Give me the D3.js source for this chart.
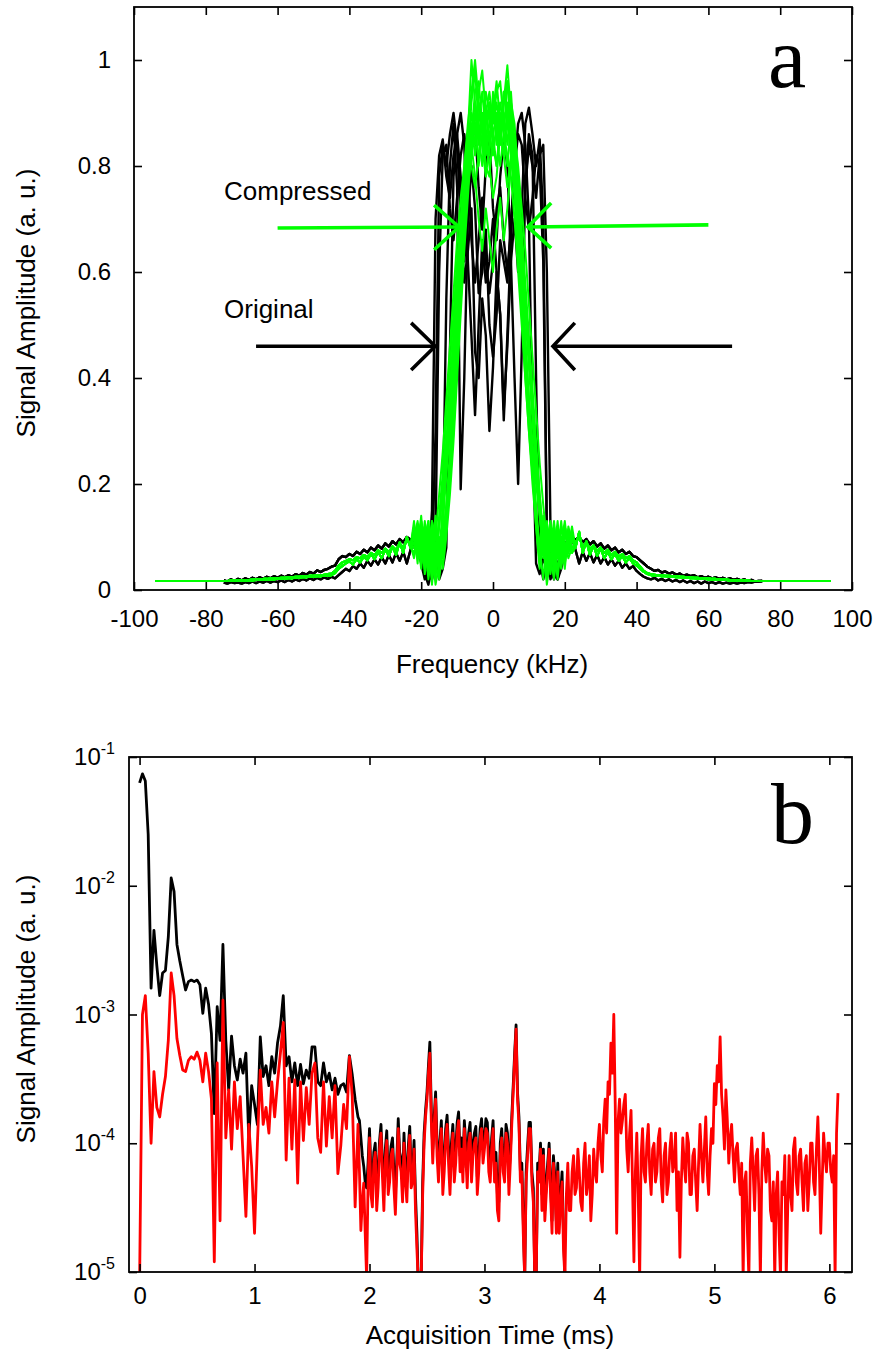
<!DOCTYPE html>
<html>
<head>
<meta charset="utf-8">
<script src="https://cdn.jsdelivr.net/npm/d3@7"></script>
<style>
  body { margin: 0; background: #fff; }
  text { font-family: "Liberation Sans", Arial, Helvetica, sans-serif; fill: #000; }
  .tick line { stroke: #000; stroke-width: 1.6; }
</style>
</head>
<body>
<svg id="fig" width="873" height="1353"></svg>
<script>
// ---------- panel a : spectra (kHz vs a.u.) ----------
const freqCore = d3.range(-22, 23);     // -22 .. 22 kHz
const freqWingL = d3.range(-75, -22);   // -75 .. -23
const freqWingR = d3.range(23, 76);     // 23 .. 75
const greenFloorF = [-94, 94];
const greenFloorA = 0.017;

// black wings (original)
const blackWingL1 = [.018,.016,.020,.017,.021,.018,.022,.019,.023,.020,
  .024,.021,.025,.022,.026,.023,.027,.024,.028,.025,
  .030,.027,.032,.029,.034,.031,.037,.034,.038,.040,
  .044,.046,.058,.064,.062,.068,.064,.072,.068,.076,
  .071,.080,.075,.084,.078,.088,.082,.092,.086,.096,
  .090,.100,.095];
const blackWingL2 = [.014,.012,.015,.013,.014,.012,.015,.013,.016,.013,
  .016,.014,.017,.014,.017,.015,.018,.015,.019,.016,
  .020,.017,.021,.018,.022,.019,.023,.020,.024,.021,
  .025,.022,.028,.034,.040,.036,.045,.040,.050,.042,
  .055,.046,.058,.048,.062,.050,.066,.052,.070,.055,
  .072,.050,.075];
const blackWingR1 = [.095,.100,.090,.096,.086,.092,.082,.088,.078,.084,
  .075,.080,.071,.076,.068,.072,.064,.062,.056,.050,
  .044,.040,.036,.038,.033,.035,.031,.033,.029,.031,
  .027,.029,.026,.028,.024,.026,.023,.025,.022,.024,
  .021,.023,.020,.022,.019,.021,.018,.020,.017,.019,
  .016,.017,.017];
const blackWingR2 = [.075,.050,.072,.055,.070,.052,.066,.050,.062,.048,
  .058,.046,.055,.042,.050,.040,.045,.036,.030,.025,
  .022,.020,.023,.018,.021,.017,.020,.016,.019,.015,
  .018,.014,.017,.013,.016,.012,.016,.013,.015,.012,
  .015,.012,.014,.012,.014,.012,.014,.013,.015,.014,
  .016,.016,.017];

// green wings (compressed)
const greenWingL1 = [.017,.017,.018,.018,.018,.019,.019,.019,.020,.020,
  .020,.021,.021,.022,.022,.022,.023,.023,.024,.024,
  .025,.025,.026,.026,.027,.027,.028,.028,.029,.030,
  .031,.036,.046,.052,.055,.058,.056,.062,.060,.066,
  .063,.070,.066,.075,.070,.078,.072,.082,.076,.088,
  .080,.095,.085];
const greenWingL2 = [.017,.017,.017,.017,.017,.018,.018,.018,.018,.019,
  .019,.019,.020,.020,.020,.021,.021,.021,.022,.022,
  .023,.023,.024,.024,.025,.025,.026,.026,.027,.027,
  .028,.032,.040,.045,.050,.054,.048,.058,.052,.063,
  .056,.068,.058,.072,.060,.076,.064,.082,.066,.090,
  .070,.100,.080];
const greenWingR1 = [.090,.100,.082,.090,.078,.084,.074,.080,.070,.076,
  .066,.072,.063,.068,.060,.064,.056,.052,.044,.036,
  .032,.030,.029,.028,.028,.027,.027,.026,.026,.025,
  .025,.024,.024,.023,.023,.022,.022,.022,.021,.021,
  .020,.020,.020,.019,.019,.019,.018,.018,.018,.017,
  .017,.017,.017];
const greenWingR2 = [.080,.110,.070,.092,.066,.084,.064,.078,.060,.072,
  .058,.068,.055,.064,.052,.060,.050,.046,.040,.034,
  .030,.028,.027,.027,.026,.026,.025,.025,.024,.024,
  .023,.023,.022,.022,.021,.021,.021,.020,.020,.020,
  .019,.019,.019,.018,.018,.018,.018,.017,.017,.017,
  .017,.017,.017];

// central parts, -22 .. 22 kHz
const blackCore1 = [.10,.08,.05,.02,.03,.15,.70,.82,.85,.78,.74,.82,.86,.78,.62,.70,.80,.72,.56,.60,.68,.50,.44,
  .52,.66,.62,.58,.70,.78,.72,.64,.76,.84,.80,.74,.82,.84,.60,.12,.03,.02,.04,.07,.09,.10];
const blackCore2 = [.09,.10,.06,.03,.01,.04,.30,.78,.84,.80,.86,.90,.84,.70,.58,.64,.72,.45,.40,.55,.48,.30,.42,
  .60,.52,.34,.46,.62,.70,.60,.72,.88,.91,.86,.80,.85,.70,.10,.02,.04,.02,.05,.08,.10,.09];
const blackCore3 = [.08,.10,.09,.06,.03,.02,.05,.03,.12,.55,.80,.88,.76,.19,.40,.70,.85,.88,.76,.68,.80,.86,.72,
  .66,.78,.85,.80,.62,.40,.20,.45,.76,.86,.82,.40,.06,.02,.05,.03,.06,.04,.07,.09,.08,.10];
const blackCore4 = [.10,.07,.09,.05,.07,.03,.06,.02,.04,.08,.45,.78,.86,.90,.84,.62,.48,.33,.50,.66,.58,.62,.70,
  .60,.52,.32,.48,.66,.80,.88,.90,.84,.70,.30,.05,.03,.06,.04,.07,.05,.08,.06,.09,.08,.10];
const blackCore5 = [.09,.08,.07,.04,.02,.06,.10,.60,.82,.84,.72,.66,.74,.82,.86,.80,.66,.58,.66,.74,.62,.56,.62,
  .72,.76,.66,.60,.68,.80,.86,.84,.74,.68,.74,.82,.80,.62,.12,.04,.02,.05,.07,.08,.09,.09];

const greenCore1 = [.09,.11,.06,.12,.04,.10,.02,.12,.20,.28,.38,.48,.58,.66,.74,.82,.92,.98,.88,.84,.90,.86,.82,
  .88,.92,.86,.96,.90,.80,.70,.62,.52,.42,.32,.22,.14,.08,.12,.04,.10,.06,.12,.08,.10,.08];
const greenCore2 = [.10,.07,.12,.08,.13,.03,.09,.05,.10,.16,.24,.34,.46,.58,.70,.80,.88,.84,.92,.88,.80,.78,.86,
  .90,.84,.94,.88,.82,.74,.64,.52,.40,.30,.20,.12,.05,.10,.03,.11,.06,.12,.08,.11,.07,.09];
const greenCore3 = [.12,.08,.14,.05,.11,.01,.08,.03,.12,.22,.32,.44,.56,.67,.76,.86,1.0,.92,.84,.90,.82,.88,.92,
  .84,.90,.86,.80,.88,.78,.66,.56,.46,.36,.26,.16,.08,.02,.10,.05,.12,.07,.13,.06,.11,.09];
const greenCore4 = [.08,.12,.07,.13,.06,.12,.04,.09,.06,.12,.20,.30,.42,.54,.66,.76,.82,.88,.80,.86,.94,.90,.84,
  .80,.88,.92,.99,.90,.84,.72,.60,.48,.36,.24,.14,.06,.11,.02,.09,.04,.10,.05,.12,.08,.10];
const greenCore5 = [.10,.13,.08,.11,.05,.13,.10,.18,.26,.36,.46,.56,.66,.74,.80,.86,.80,.76,.82,.90,.86,.80,.74,
  .78,.86,.82,.76,.82,.86,.80,.72,.64,.54,.44,.34,.24,.16,.09,.13,.06,.12,.09,.13,.07,.11];
const greenCore6 = [.07,.10,.05,.09,.02,.07,.01,.05,.09,.16,.26,.38,.50,.62,.72,.80,.86,.94,.96,.88,.84,.92,.88,
  .94,.96,.88,.92,.86,.78,.68,.56,.44,.32,.22,.12,.04,.09,.01,.06,.02,.08,.04,.09,.06,.08];
const greenCore7 = [.11,.09,.13,.07,.12,.06,.11,.04,.14,.24,.34,.44,.54,.64,.72,.78,.84,.78,.70,.64,.72,.66,.60,
  .68,.74,.66,.72,.80,.84,.76,.66,.56,.46,.36,.26,.18,.10,.06,.12,.05,.10,.07,.12,.08,.10];
const greenCore8 = [.09,.06,.11,.03,.09,.02,.07,.12,.18,.26,.36,.48,.60,.70,.80,.88,.94,1.0,.92,.86,.90,.94,.88,
  .92,.86,.94,.90,.84,.76,.66,.56,.46,.36,.28,.20,.14,.06,.11,.03,.08,.02,.09,.05,.10,.07];
const greenCore9 = [.13,.07,.10,.04,.12,.08,.14,.06,.16,.22,.30,.40,.52,.62,.72,.82,.90,.86,.94,.98,.90,.84,.90,
  .96,.88,.82,.90,.94,.84,.74,.64,.54,.44,.34,.24,.16,.08,.13,.05,.11,.03,.10,.06,.12,.09];
const greenCore10 = [.06,.10,.04,.11,.07,.13,.05,.10,.04,.10,.18,.28,.40,.52,.64,.74,.84,.90,.86,.80,.88,.92,.86,
  .80,.86,.90,.84,.92,.88,.78,.68,.58,.48,.38,.28,.18,.10,.04,.12,.07,.13,.05,.11,.08,.12];
const greenCore11 = [.11,.05,.13,.09,.03,.10,.06,.14,.22,.32,.42,.52,.62,.70,.76,.84,.88,.82,.88,.84,.78,.84,.90,
  .86,.80,.86,.82,.78,.70,.60,.50,.40,.30,.22,.14,.08,.14,.06,.10,.03,.11,.05,.12,.08,.10];
const greenCore12 = [.08,.12,.05,.10,.13,.04,.12,.02,.08,.14,.22,.32,.44,.56,.68,.78,.86,.92,.88,.94,.86,.82,.94,
  .88,.84,.92,.96,.86,.80,.70,.58,.46,.34,.24,.14,.07,.12,.04,.08,.13,.06,.10,.04,.11,.07];

const xTicksA = [-100, -80, -60, -40, -20, 0, 20, 40, 60, 80, 100];
const yTicksA = [0, 0.2, 0.4, 0.6, 0.8, 1];

// width arrows: [fromF, fromA, tipF, tipA, armF, armUp, armDown]
const arrowsGreen = [[-60, 0.683, -9.5, 0.685, -16.4, 0.726, 0.642],
                     [60, 0.689, 9.7, 0.685, 16.2, 0.730, 0.645]];
const arrowsBlack = [[-66, 0.460, -16.1, 0.460, -22.8, 0.504, 0.415],
                     [66.6, 0.460, 16.7, 0.460, 22.8, 0.504, 0.415]];

// ---------- panel b : time domain residual (ms vs a.u.) ----------
const ampUnit = 1e-4;       // all amplitudes below are in units of 1e-4 a.u.
// 0 .. 1.875 ms, every 0.025 ms
const tEarly = [0, 0.025];
const redEarly = [
  0.08, 10, 14, 5, 1.0, 3.6, 1.9, 1.6, 2.4, 3.3,
  6.3, 21, 14, 6.5, 4.8, 3.7, 3.6, 4.4, 4.7, 4.5,
  5.1, 4.4, 3.0, 5.0, 3.6, 2.2, 0.12, 4.2, 0.25, 12.9,
  1.1, 2.6, 0.9, 3.0, 1.3, 2.3, 0.8, 0.27, 1.4, 0.66,
  0.2, 1.0, 3.7, 1.4, 1.9, 1.2, 3.0, 1.6, 3.0, 5.0,
  8.7, 0.74, 3.2, 0.9, 3.1, 0.49, 3.0, 1.05, 2.7, 1.4,
  3.5, 4.2, 1.1, 0.85, 3.0, 0.95, 2.3, 1.1, 2.8, 0.58,
  0.95, 2.0, 1.3, 4.7, 2.3, 0.32];
const blackEarly = [
  630, 740, 650, 250, 16, 45, 24, 14, 21, 22,
  40, 115, 90, 35, 26, 20, 15.5, 18, 18.5, 18,
  18.5, 17, 10.2, 16, 12, 7.1, 1.7, 11.5, 6.3, 35,
  6.3, 2.6, 6.8, 4.0, 3.1, 4.5, 3.5, 5.0, 1.07, 2.8,
  2.0, 1.4, 6.7, 3.3, 4.0, 2.8, 4.7, 3.5, 6.0, 8.1,
  14, 4.0, 4.7, 3.0, 4.2, 2.8, 4.1, 2.9, 3.7, 3.2,
  5.6, 5.6, 3.0, 2.8, 4.2, 3.0, 3.5, 2.6, 3.2, 2.4,
  2.8, 2.9, 2.5, 4.8, 3.4, 2.2];
// 1.9 ms onwards, every 0.0125 ms
const tLate = [1.9, 0.0125];
const redLate = [
  1.4, 0.6, 0.21, 0.35, 0.49, 0.2, 0.09, 0.5, 1.1, 0.4, 0.32, 0.7, 0.85, 0.3, 0.45, 0.9, 1.2, 0.55, 0.3, 0.75,
  1.05, 0.4, 0.5, 0.8, 0.9, 0.45, 0.28, 0.6, 1.3, 0.7, 0.6, 0.35, 1.0, 0.5, 0.35, 0.8, 1.15, 0.45, 0.5, 0.9,
  0.3, 0.15, 0.08, 0.09, 0.09, 0.4, 1.0, 1.6, 2.2, 3.5, 5.0, 1.5, 0.7, 1.4, 2.2, 0.8, 0.5, 0.9, 1.3, 0.4,
  0.6, 1.1, 1.4, 0.7, 0.4, 0.8, 1.2, 0.5, 0.7, 1.2, 1.5, 0.6, 0.9, 0.5, 1.3, 0.8, 0.45, 1.0, 1.2, 0.5,
  0.8, 1.0, 1.1, 0.4, 0.6, 1.1, 1.3, 0.7, 0.9, 1.3, 1.2, 0.6, 0.5, 0.9, 1.3, 0.5, 0.7, 0.3, 0.25, 0.8,
  1.1, 0.6, 0.5, 1.2, 1.0, 0.4, 0.7, 1.4, 2.5, 4.5, 7.7, 2.2, 1.4, 0.5, 0.6, 0.2, 0.09, 0.5, 0.8, 1.3,
  1.3, 0.5, 0.35, 0.09, 0.09, 0.6, 0.5, 0.9, 0.3, 0.8, 0.25, 0.4, 0.6, 0.9, 0.4, 0.2, 0.7, 0.45, 0.2, 0.6,
  0.2, 0.35, 0.5, 0.15, 0.09, 0.4, 0.7, 0.3, 0.3, 0.6, 0.8, 0.4, 0.45, 0.9, 0.6, 0.35, 0.3, 0.7, 1.0, 0.4,
  0.5, 0.8, 0.25, 0.4, 0.9, 0.6, 0.5, 1.0, 1.4, 0.8, 0.6, 1.5, 2.2, 1.2, 3.0, 2.4, 6.0, 3.5, 10, 2.0,
  0.2, 1.5, 2.2, 1.2, 1.5, 2.0, 2.4, 0.9, 0.6, 1.2, 1.8, 0.5, 0.12, 0.6, 1.2, 0.4, 0.09, 0.8, 1.3, 0.6,
  0.5, 1.0, 1.4, 0.6, 0.4, 0.9, 1.0, 0.5, 0.6, 1.1, 1.3, 0.5, 0.35, 0.8, 1.0, 0.4, 0.5, 0.9, 1.2, 0.6,
  0.7, 1.2, 0.3, 0.6, 0.13, 0.5, 1.1, 0.7, 0.5, 1.2, 1.0, 0.4, 0.4, 0.8, 0.9, 0.5, 0.3, 0.7, 1.4, 0.8,
  0.5, 0.9, 1.6, 0.6, 0.4, 0.8, 1.3, 1.0, 2.9, 2.0, 4.0, 3.0, 6.7, 2.4, 1.6, 0.9, 2.6, 1.5, 0.7, 1.1,
  1.4, 0.8, 0.5, 0.9, 1.0, 0.6, 0.4, 0.7, 0.09, 0.5, 0.6, 0.2, 0.09, 0.7, 1.1, 0.6, 0.3, 0.8, 0.9, 0.4,
  0.09, 0.6, 1.2, 0.7, 0.5, 0.9, 0.8, 0.3, 0.25, 0.5, 0.09, 0.4, 0.6, 0.2, 0.09, 0.5, 0.4, 0.8, 0.09, 0.3,
  0.8, 0.4, 0.3, 0.9, 1.1, 0.5, 0.4, 0.8, 0.9, 0.5, 0.3, 0.7, 0.8, 0.3, 0.5, 1.0, 1.0, 0.5, 0.4, 0.9,
  1.6, 0.7, 0.2, 0.5, 1.2, 0.8, 0.6, 1.0, 1.0, 0.6, 0.5, 0.8, 0.09, 1.2, 2.45];
const blackLate = [
  1.6, 1.5, 1.1, 0.8, 0.66, 0.5, 0.45, 0.7, 1.3, 0.6, 0.45, 0.85, 1.0, 0.45, 0.6, 1.05, 1.4, 0.7, 0.45, 0.9,
  1.25, 0.55, 0.65, 0.95, 1.1, 0.6, 0.4, 0.75, 1.55, 0.85, 0.75, 0.5, 1.2, 0.65, 0.5, 0.95, 1.35, 0.6, 0.6, 1.05,
  0.4, 0.2, 0.08, 0.09, 0.09, 0.5, 1.2, 1.8, 2.5, 4.0, 6.1, 1.8, 0.9, 1.6, 2.5, 1.0, 0.65, 1.05, 1.5, 0.55,
  0.75, 1.3, 1.65, 0.9, 0.55, 1.0, 1.4, 0.7, 0.9, 1.45, 1.75, 0.8, 1.1, 0.65, 1.5, 1.0, 0.6, 1.2, 1.45, 0.65,
  1.0, 1.2, 1.35, 0.55, 0.8, 1.3, 1.55, 0.9, 1.1, 1.55, 1.45, 0.8, 0.65, 1.1, 1.5, 0.65, 0.85, 0.4, 0.35, 1.0,
  1.3, 0.75, 0.65, 1.4, 1.2, 0.55, 0.85, 1.6, 2.8, 5.0, 8.3, 2.5, 1.6, 0.6, 0.7, 0.25, 0.09, 0.6, 0.95, 1.45,
  1.45, 0.6, 0.45, 0.09, 0.09, 0.7, 0.6, 1.0, 0.4, 0.9, 0.3, 0.5, 0.7, 1.0, 0.5, 0.25, 0.8, 0.55, 0.25, 0.7,
  0.25, 0.4, 0.6, 0.2, 0.09];
const xTicksB = [0, 1, 2, 3, 4, 5, 6];
const yTicksB = [1e-5, 1e-4, 1e-3, 1e-2, 1e-1];
const yTickExpB = ['-5', '-4', '-3', '-2', '-1'];

// ================= drawing =================
const svg = d3.select('#fig');

// join wing + core + wing into [freq, amp] points
function spectrum(wingL, core, wingR, floor) {
  let pts = [];
  if (floor) pts.push([greenFloorF[0], greenFloorA]);
  wingL.forEach((a, i) => pts.push([freqWingL[i], a]));
  core.forEach((a, i) => pts.push([freqCore[i], a]));
  wingR.forEach((a, i) => pts.push([freqWingR[i], a]));
  if (floor) pts.push([greenFloorF[1], greenFloorA]);
  return pts;
}

let blackTraces = [
  spectrum(blackWingL1, blackCore1, blackWingR2),
  spectrum(blackWingL2, blackCore2, blackWingR1),
  spectrum(blackWingL1, blackCore3, blackWingR1),
  spectrum(blackWingL2, blackCore4, blackWingR2),
  spectrum(blackWingL1, blackCore5, blackWingR1)
];
let greenTraces = [
  spectrum(greenWingL1, greenCore1, greenWingR2, true),
  spectrum(greenWingL2, greenCore2, greenWingR1, true),
  spectrum(greenWingL1, greenCore3, greenWingR1, true),
  spectrum(greenWingL2, greenCore4, greenWingR2, true),
  spectrum(greenWingL1, greenCore5, greenWingR2, true),
  spectrum(greenWingL2, greenCore6, greenWingR1, true),
  spectrum(greenWingL1, greenCore7, greenWingR1, true),
  spectrum(greenWingL2, greenCore8, greenWingR2, true),
  spectrum(greenWingL2, greenCore9, greenWingR1, true),
  spectrum(greenWingL1, greenCore10, greenWingR2, true),
  spectrum(greenWingL2, greenCore11, greenWingR2, true),
  spectrum(greenWingL1, greenCore12, greenWingR1, true)
];

const xA = d3.scaleLinear().domain([-100, 100]).range([134, 852]);
const yA = d3.scaleLinear().domain([0, 1.1]).range([590, 7]);
const lineA = d3.line().x(d => xA(d[0])).y(d => yA(d[1]));

const gA = svg.append('g');
blackTraces.forEach((tr) => {
  gA.append('path').attr('d', lineA(tr))
    .attr('fill', 'none').attr('stroke', '#000')
    .attr('stroke-width', 2.4).attr('stroke-linejoin', 'round');
});
greenTraces.forEach((tr) => {
  gA.append('path').attr('d', lineA(tr))
    .attr('fill', 'none').attr('stroke', '#00ff00')
    .attr('stroke-width', 2).attr('stroke-linejoin', 'round');
});

function drawArrows(list, color) {
  list.forEach((a) => {
    gA.append('path')
      .attr('d', `M${xA(a[0])},${yA(a[1])}L${xA(a[2])},${yA(a[3])}`)
      .attr('stroke', color).attr('stroke-width', 3.6).attr('fill', 'none');
    gA.append('path')
      .attr('d', `M${xA(a[4])},${yA(a[5])}L${xA(a[2])},${yA(a[3])}L${xA(a[4])},${yA(a[6])}`)
      .attr('stroke', color).attr('stroke-width', 3.6).attr('fill', 'none');
  });
}
drawArrows(arrowsBlack, '#000');
drawArrows(arrowsGreen, '#00ff00');

gA.append('text').attr('x', 224).attr('y', 200).attr('font-size', 26).text('Compressed');
gA.append('text').attr('x', 224).attr('y', 318).attr('font-size', 26).text('Original');

// boxed axes with inward ticks on all four sides
function frameAxes(g, x, y, xTicks, yTicks, xFmt, yFmt, padX, padY) {
  const [x0, x1] = x.range(), [y0, y1] = y.range();
  g.append('g').attr('transform', `translate(0,${y0})`)
    .call(d3.axisBottom(x).tickValues(xTicks).tickSizeInner(-8).tickSizeOuter(0)
      .tickPadding(padX).tickFormat(xFmt))
    .call(s => s.select('.domain').remove())
    .selectAll('text').attr('font-size', 24).attr('font-family', null);
  g.append('g').attr('transform', `translate(0,${y1})`)
    .call(d3.axisTop(x).tickValues(xTicks).tickSizeInner(-8).tickSizeOuter(0).tickFormat(''))
    .call(s => s.select('.domain').remove());
  g.append('g').attr('transform', `translate(${x0},0)`)
    .call(d3.axisLeft(y).tickValues(yTicks).tickSizeInner(-8).tickSizeOuter(0)
      .tickPadding(padY).tickFormat(yFmt))
    .call(s => s.select('.domain').remove())
    .selectAll('text').attr('font-size', 24).attr('font-family', null);
  g.append('g').attr('transform', `translate(${x1},0)`)
    .call(d3.axisRight(y).tickValues(yTicks).tickSizeInner(-8).tickSizeOuter(0).tickFormat(''))
    .call(s => s.select('.domain').remove());
  g.append('rect').attr('x', x0).attr('y', y1).attr('width', x1 - x0).attr('height', y0 - y1)
    .attr('fill', 'none').attr('stroke', '#000').attr('stroke-width', 1.8);
}
frameAxes(svg.append('g'), xA, yA, xTicksA, yTicksA, d => String(d), d => String(d), 20, 23);

svg.append('text').attr('x', 492).attr('y', 673).attr('text-anchor', 'middle')
  .attr('font-size', 26).text('Frequency (kHz)');
svg.append('text').attr('transform', 'translate(35,303) rotate(-90)').attr('text-anchor', 'middle')
  .attr('font-size', 26).text('Signal Amplitude (a. u.)');
svg.append('text').attr('x', 768).attr('y', 87)
  .style('font-family', '"Liberation Serif", "Times New Roman", serif').attr('font-size', 86).text('a');

// ---------- panel b ----------
const xB = d3.scaleLinear().domain([-0.092, 6.197]).range([129, 852]);
const yB = d3.scaleLog().domain([1e-5, 1e-1]).range([1272, 757]);

svg.append('clipPath').attr('id', 'clipB').append('rect')
  .attr('x', 129).attr('y', 757).attr('width', 723).attr('height', 515);

function series(early, late) {
  let pts = early.map((a, i) => [tEarly[0] + i * tEarly[1], a]);
  late.forEach((a, i) => pts.push([tLate[0] + i * tLate[1], a]));
  return pts;
}
const lineB = d3.line().x(d => xB(d[0])).y(d => yB(Math.max(d[1] * ampUnit, 5e-6)));
const gB = svg.append('g').attr('clip-path', 'url(#clipB)');
gB.append('path').attr('d', lineB(series(blackEarly, blackLate))).attr('fill', 'none')
  .attr('stroke', '#000').attr('stroke-width', 2.8).attr('stroke-linejoin', 'round');
gB.append('path').attr('d', lineB(series(redEarly, redLate))).attr('fill', 'none')
  .attr('stroke', '#ff0000').attr('stroke-width', 2.8).attr('stroke-linejoin', 'round');

frameAxes(svg.append('g'), xB, yB, xTicksB, yTicksB, d => String(d), () => '', 15, 23);

// log labels with superscripts
yTicksB.forEach((v, i) => {
  const t = svg.append('text').attr('x', 115).attr('y', yB(v) + 8)
    .attr('text-anchor', 'end').attr('font-size', 24);
  t.append('tspan').text('10');
  t.append('tspan').attr('dy', -11).attr('font-size', 16).text(yTickExpB[i]);
});

svg.append('text').attr('x', 490).attr('y', 1344).attr('text-anchor', 'middle')
  .attr('font-size', 26).text('Acquisition Time (ms)');
svg.append('text').attr('transform', 'translate(35,1009) rotate(-90)').attr('text-anchor', 'middle')
  .attr('font-size', 26).text('Signal Amplitude (a. u.)');
svg.append('text').attr('x', 771).attr('y', 843)
  .style('font-family', '"Liberation Serif", "Times New Roman", serif').attr('font-size', 86).text('b');
</script>
</body>
</html>
